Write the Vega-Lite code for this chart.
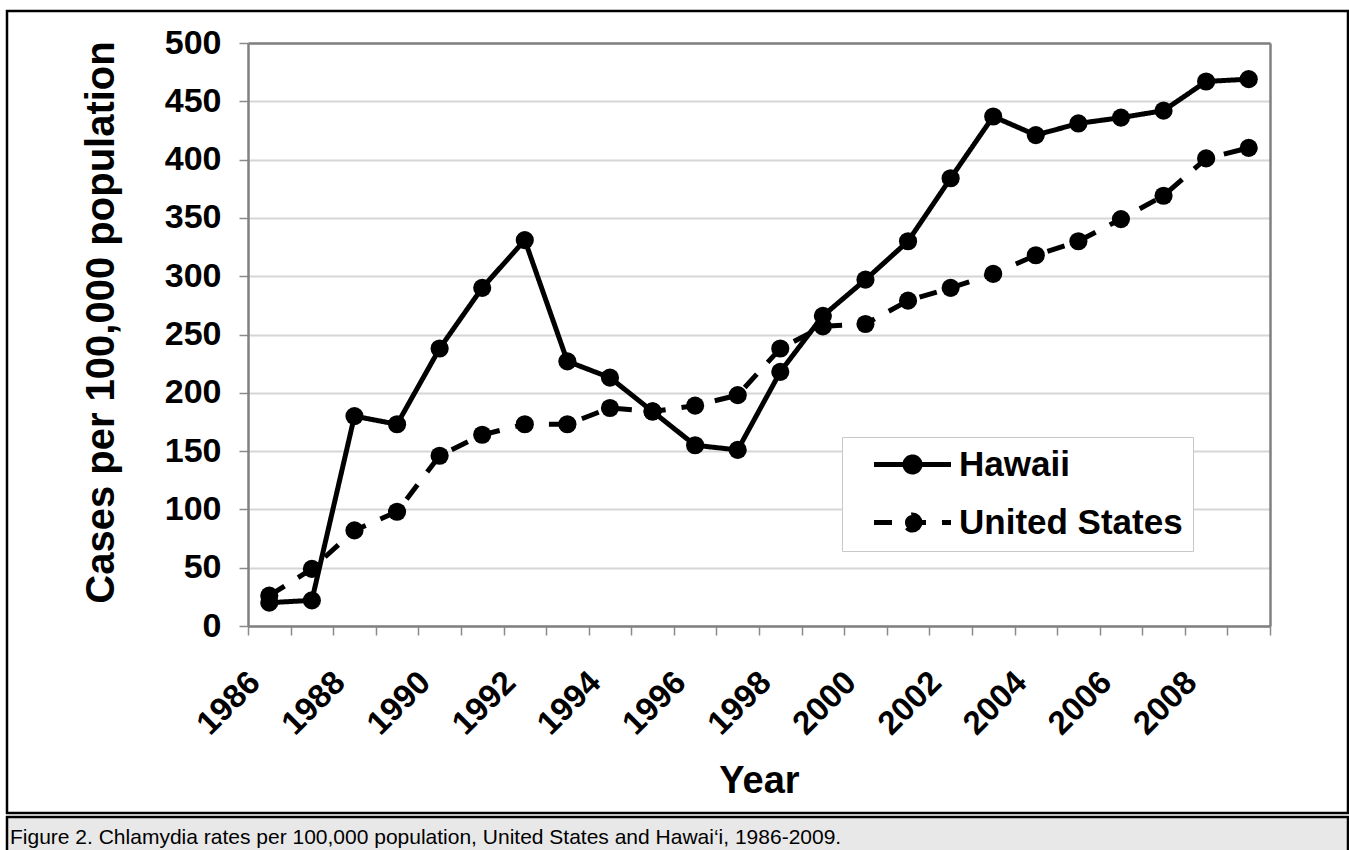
{
  "$schema": "https://vega.github.io/schema/vega-lite/v6.json",
  "padding": {"left": -6, "top": 9, "right": 0, "bottom": 0},
  "background": "white",
  "spacing": 0,
  "config": {
    "font": "Liberation Sans",
    "view": {"stroke": "black", "strokeWidth": 2.5},
    "axis": {
      "labelFont": "Liberation Sans",
      "titleFont": "Liberation Sans",
      "labelColor": "black",
      "titleColor": "black",
      "labelFontWeight": "bold",
      "titleFontWeight": "bold"
    },
    "legend": {"symbolBaseFillColor": "black"}
  },
  "datasets": {
    "rates": [
      {"Year": 1986, "Series": "Hawaii", "Rate": 20}, {"Year": 1986, "Series": "United States", "Rate": 26},
      {"Year": 1987, "Series": "Hawaii", "Rate": 22}, {"Year": 1987, "Series": "United States", "Rate": 49},
      {"Year": 1988, "Series": "Hawaii", "Rate": 180}, {"Year": 1988, "Series": "United States", "Rate": 82},
      {"Year": 1989, "Series": "Hawaii", "Rate": 173}, {"Year": 1989, "Series": "United States", "Rate": 98},
      {"Year": 1990, "Series": "Hawaii", "Rate": 238}, {"Year": 1990, "Series": "United States", "Rate": 146},
      {"Year": 1991, "Series": "Hawaii", "Rate": 290}, {"Year": 1991, "Series": "United States", "Rate": 164},
      {"Year": 1992, "Series": "Hawaii", "Rate": 331}, {"Year": 1992, "Series": "United States", "Rate": 173},
      {"Year": 1993, "Series": "Hawaii", "Rate": 227}, {"Year": 1993, "Series": "United States", "Rate": 173},
      {"Year": 1994, "Series": "Hawaii", "Rate": 213}, {"Year": 1994, "Series": "United States", "Rate": 187},
      {"Year": 1995, "Series": "Hawaii", "Rate": 184}, {"Year": 1995, "Series": "United States", "Rate": 184},
      {"Year": 1996, "Series": "Hawaii", "Rate": 155}, {"Year": 1996, "Series": "United States", "Rate": 189},
      {"Year": 1997, "Series": "Hawaii", "Rate": 151}, {"Year": 1997, "Series": "United States", "Rate": 198},
      {"Year": 1998, "Series": "Hawaii", "Rate": 218}, {"Year": 1998, "Series": "United States", "Rate": 238},
      {"Year": 1999, "Series": "Hawaii", "Rate": 266}, {"Year": 1999, "Series": "United States", "Rate": 257},
      {"Year": 2000, "Series": "Hawaii", "Rate": 297}, {"Year": 2000, "Series": "United States", "Rate": 259},
      {"Year": 2001, "Series": "Hawaii", "Rate": 330}, {"Year": 2001, "Series": "United States", "Rate": 279},
      {"Year": 2002, "Series": "Hawaii", "Rate": 384}, {"Year": 2002, "Series": "United States", "Rate": 290},
      {"Year": 2003, "Series": "Hawaii", "Rate": 437}, {"Year": 2003, "Series": "United States", "Rate": 302},
      {"Year": 2004, "Series": "Hawaii", "Rate": 421}, {"Year": 2004, "Series": "United States", "Rate": 318},
      {"Year": 2005, "Series": "Hawaii", "Rate": 431}, {"Year": 2005, "Series": "United States", "Rate": 330},
      {"Year": 2006, "Series": "Hawaii", "Rate": 436}, {"Year": 2006, "Series": "United States", "Rate": 349},
      {"Year": 2007, "Series": "Hawaii", "Rate": 442}, {"Year": 2007, "Series": "United States", "Rate": 369},
      {"Year": 2008, "Series": "Hawaii", "Rate": 467}, {"Year": 2008, "Series": "United States", "Rate": 401},
      {"Year": 2009, "Series": "Hawaii", "Rate": 469}, {"Year": 2009, "Series": "United States", "Rate": 410}
    ]
  },
  "vconcat": [
    {
      "width": 1341,
      "height": 802,
      "data": {"name": "rates"},
      "layer": [
        {
          "mark": {"type": "line", "color": "black", "strokeWidth": 5},
          "encoding": {
            "x": {
              "field": "Year", "type": "ordinal",
              "scale": {"type": "band", "range": [241, 1263], "paddingInner": 0, "paddingOuter": 0},
              "axis": {
                "orient": "bottom", "offset": -187, "title": "Year",
                "titleFontSize": 38, "titlePadding": 22,
                "labelAngle": -45, "labelAlign": "right", "labelBaseline": "middle",
                "labelFontSize": 33, "labelPadding": 42, "labelOffset": -15,
                "labelExpr": "datum.value % 2 == 0 ? datum.label : ''",
                "labelOverlap": false, "labelFlush": false,
                "tickBand": "extent", "tickSize": 9, "tickColor": "#8a8a8a", "tickWidth": 1.5,
                "domainColor": "#808080", "domainWidth": 2.5, "grid": false
              }
            },
            "y": {
              "field": "Rate", "type": "quantitative",
              "scale": {"domain": [0, 500], "range": [615, 32], "nice": false, "zero": true},
              "axis": {
                "orient": "left", "offset": -241, "title": "Cases per 100,000 population",
                "titleFontSize": 40, "titlePadding": 43, "titleY": 311,
                "labelFontSize": 34, "labelPadding": 18,
                "values": [0, 50, 100, 150, 200, 250, 300, 350, 400, 450, 500],
                "labelOverlap": false, "labelFlush": false,
                "tickSize": 9, "tickColor": "#8a8a8a", "tickWidth": 1.5,
                "domainColor": "#808080", "domainWidth": 2.5,
                "grid": true, "gridColor": "#d6d6d6", "gridWidth": 2
              }
            },
            "strokeDash": {
              "field": "Series", "type": "nominal",
              "scale": {"domain": ["Hawaii", "United States"], "range": [[1, 0], [18, 16]]},
              "legend": {
                "orient": "none", "legendX": 835, "legendY": 426, "title": null,
                "direction": "vertical",
                "fillColor": "white", "strokeColor": "#c8c8c8",
                "padding": 10, "rowPadding": 22,
                "labelFont": "Liberation Sans", "labelFontSize": 35, "labelFontWeight": "bold",
                "labelColor": "black", "labelOffset": 29, "labelLimit": 400,
                "symbolType": "M-2.567,0H2.567M0.5,0A0.5,0.5,0,1,1,-0.5,0A0.5,0.5,0,1,1,0.5,0Z",
                "symbolSize": 900, "symbolStrokeWidth": 5,
                "symbolStrokeColor": "black", "symbolFillColor": "black",
                "symbolOffset": 43
              }
            }
          }
        },
        {
          "mark": {"type": "point", "filled": true, "color": "black", "size": 330, "opacity": 1},
          "encoding": {
            "x": {
              "field": "Year", "type": "ordinal",
              "scale": {"type": "band", "range": [241, 1263], "paddingInner": 0, "paddingOuter": 0},
              "axis": {"orient": "top", "offset": -32, "labels": false, "ticks": false, "grid": false, "title": null, "domainColor": "#808080", "domainWidth": 2.5}
            },
            "y": {
              "field": "Rate", "type": "quantitative",
              "scale": {"domain": [0, 500], "range": [615, 32], "nice": false, "zero": true},
              "axis": {"orient": "right", "offset": -78, "labels": false, "ticks": false, "grid": false, "title": null, "domainColor": "#808080", "domainWidth": 2.5}
            }
          }
        }
      ],
      "resolve": {"axis": {"x": "independent", "y": "independent"}}
    },
    {
      "width": 1341,
      "height": 42,
      "view": {"fill": "#e8e8e8", "stroke": "black", "strokeWidth": 2.5},
      "data": {"values": [{"caption": "Figure 2. Chlamydia rates per 100,000 population, United States and Hawai‘i, 1986-2009."}]},
      "mark": {"type": "text", "align": "left", "baseline": "middle", "dx": 3, "fontSize": 21, "font": "Liberation Sans", "color": "black"},
      "encoding": {
        "text": {"field": "caption"},
        "x": {"datum": 0, "type": "quantitative", "scale": {"domain": [0, 1]}, "axis": null}
      }
    }
  ]
}
